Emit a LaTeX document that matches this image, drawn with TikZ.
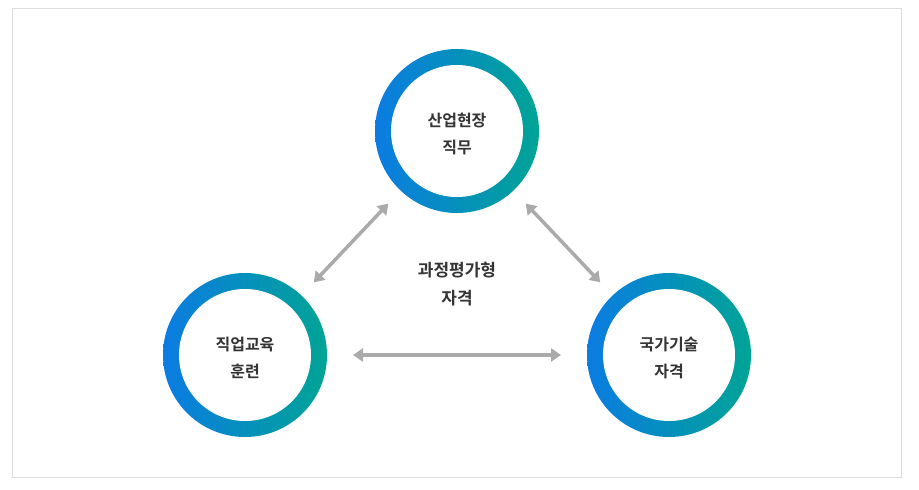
\documentclass[tikz,border=0pt]{standalone}
\usepackage{fontspec}
\newfontfamily\kr{Noto Sans CJK KR Bold}
\usetikzlibrary{arrows.meta}
\definecolor{ringblue}{HTML}{0B7CE2}
\definecolor{ringteal}{HTML}{00A495}
\definecolor{arrowgray}{HTML}{AAAAAA}
\definecolor{framegray}{HTML}{DDDDDD}
\definecolor{txt}{HTML}{333333}
\begin{document}
\begin{tikzpicture}[x=1pt,y=-1pt,
  ring/.style={circle,minimum size=164pt,inner sep=0pt,outer sep=0pt},
  lbl/.style={font=\kr\fontsize{16}{27}\selectfont,text=txt,align=center,inner sep=0pt},
  clbl/.style={font=\kr\fontsize{17}{28}\selectfont,text=txt,align=center,inner sep=0pt},
  link/.style={draw=arrowgray,line width=3.5pt,{Triangle[length=10pt,width=13pt]}-{Triangle[length=10pt,width=13pt]}}
]
\useasboundingbox (0,0) rectangle (919,490);
\draw[framegray,line width=1pt] (12.5,8.5) rectangle (901.5,477);
\node[ring] (top) at (457,131) {};
\node[ring] (left) at (245,355) {};
\node[ring] (right) at (669,355) {};
\foreach \n in {top,left,right}{
  \shade[left color=ringblue,right color=ringteal] (\n.center) circle (82);
  \fill[white] (\n.center) circle (66);
}
\node[lbl] (toptext) at (457,134) {산업현장\\직무};
\node[lbl] (lefttext) at (245,358) {직업교육\\훈련};
\node[lbl] (righttext) at (669,358) {국가기술\\자격};
\node[clbl] (center) at (457,284) {과정평가형\\자격};
\draw[link,shorten <=18pt,shorten >=18pt] (top) -- (left);
\draw[link,shorten <=18pt,shorten >=18pt] (top) -- (right);
\draw[link,shorten <=26pt,shorten >=26pt] (left) -- (right);
\end{tikzpicture}
\end{document}
